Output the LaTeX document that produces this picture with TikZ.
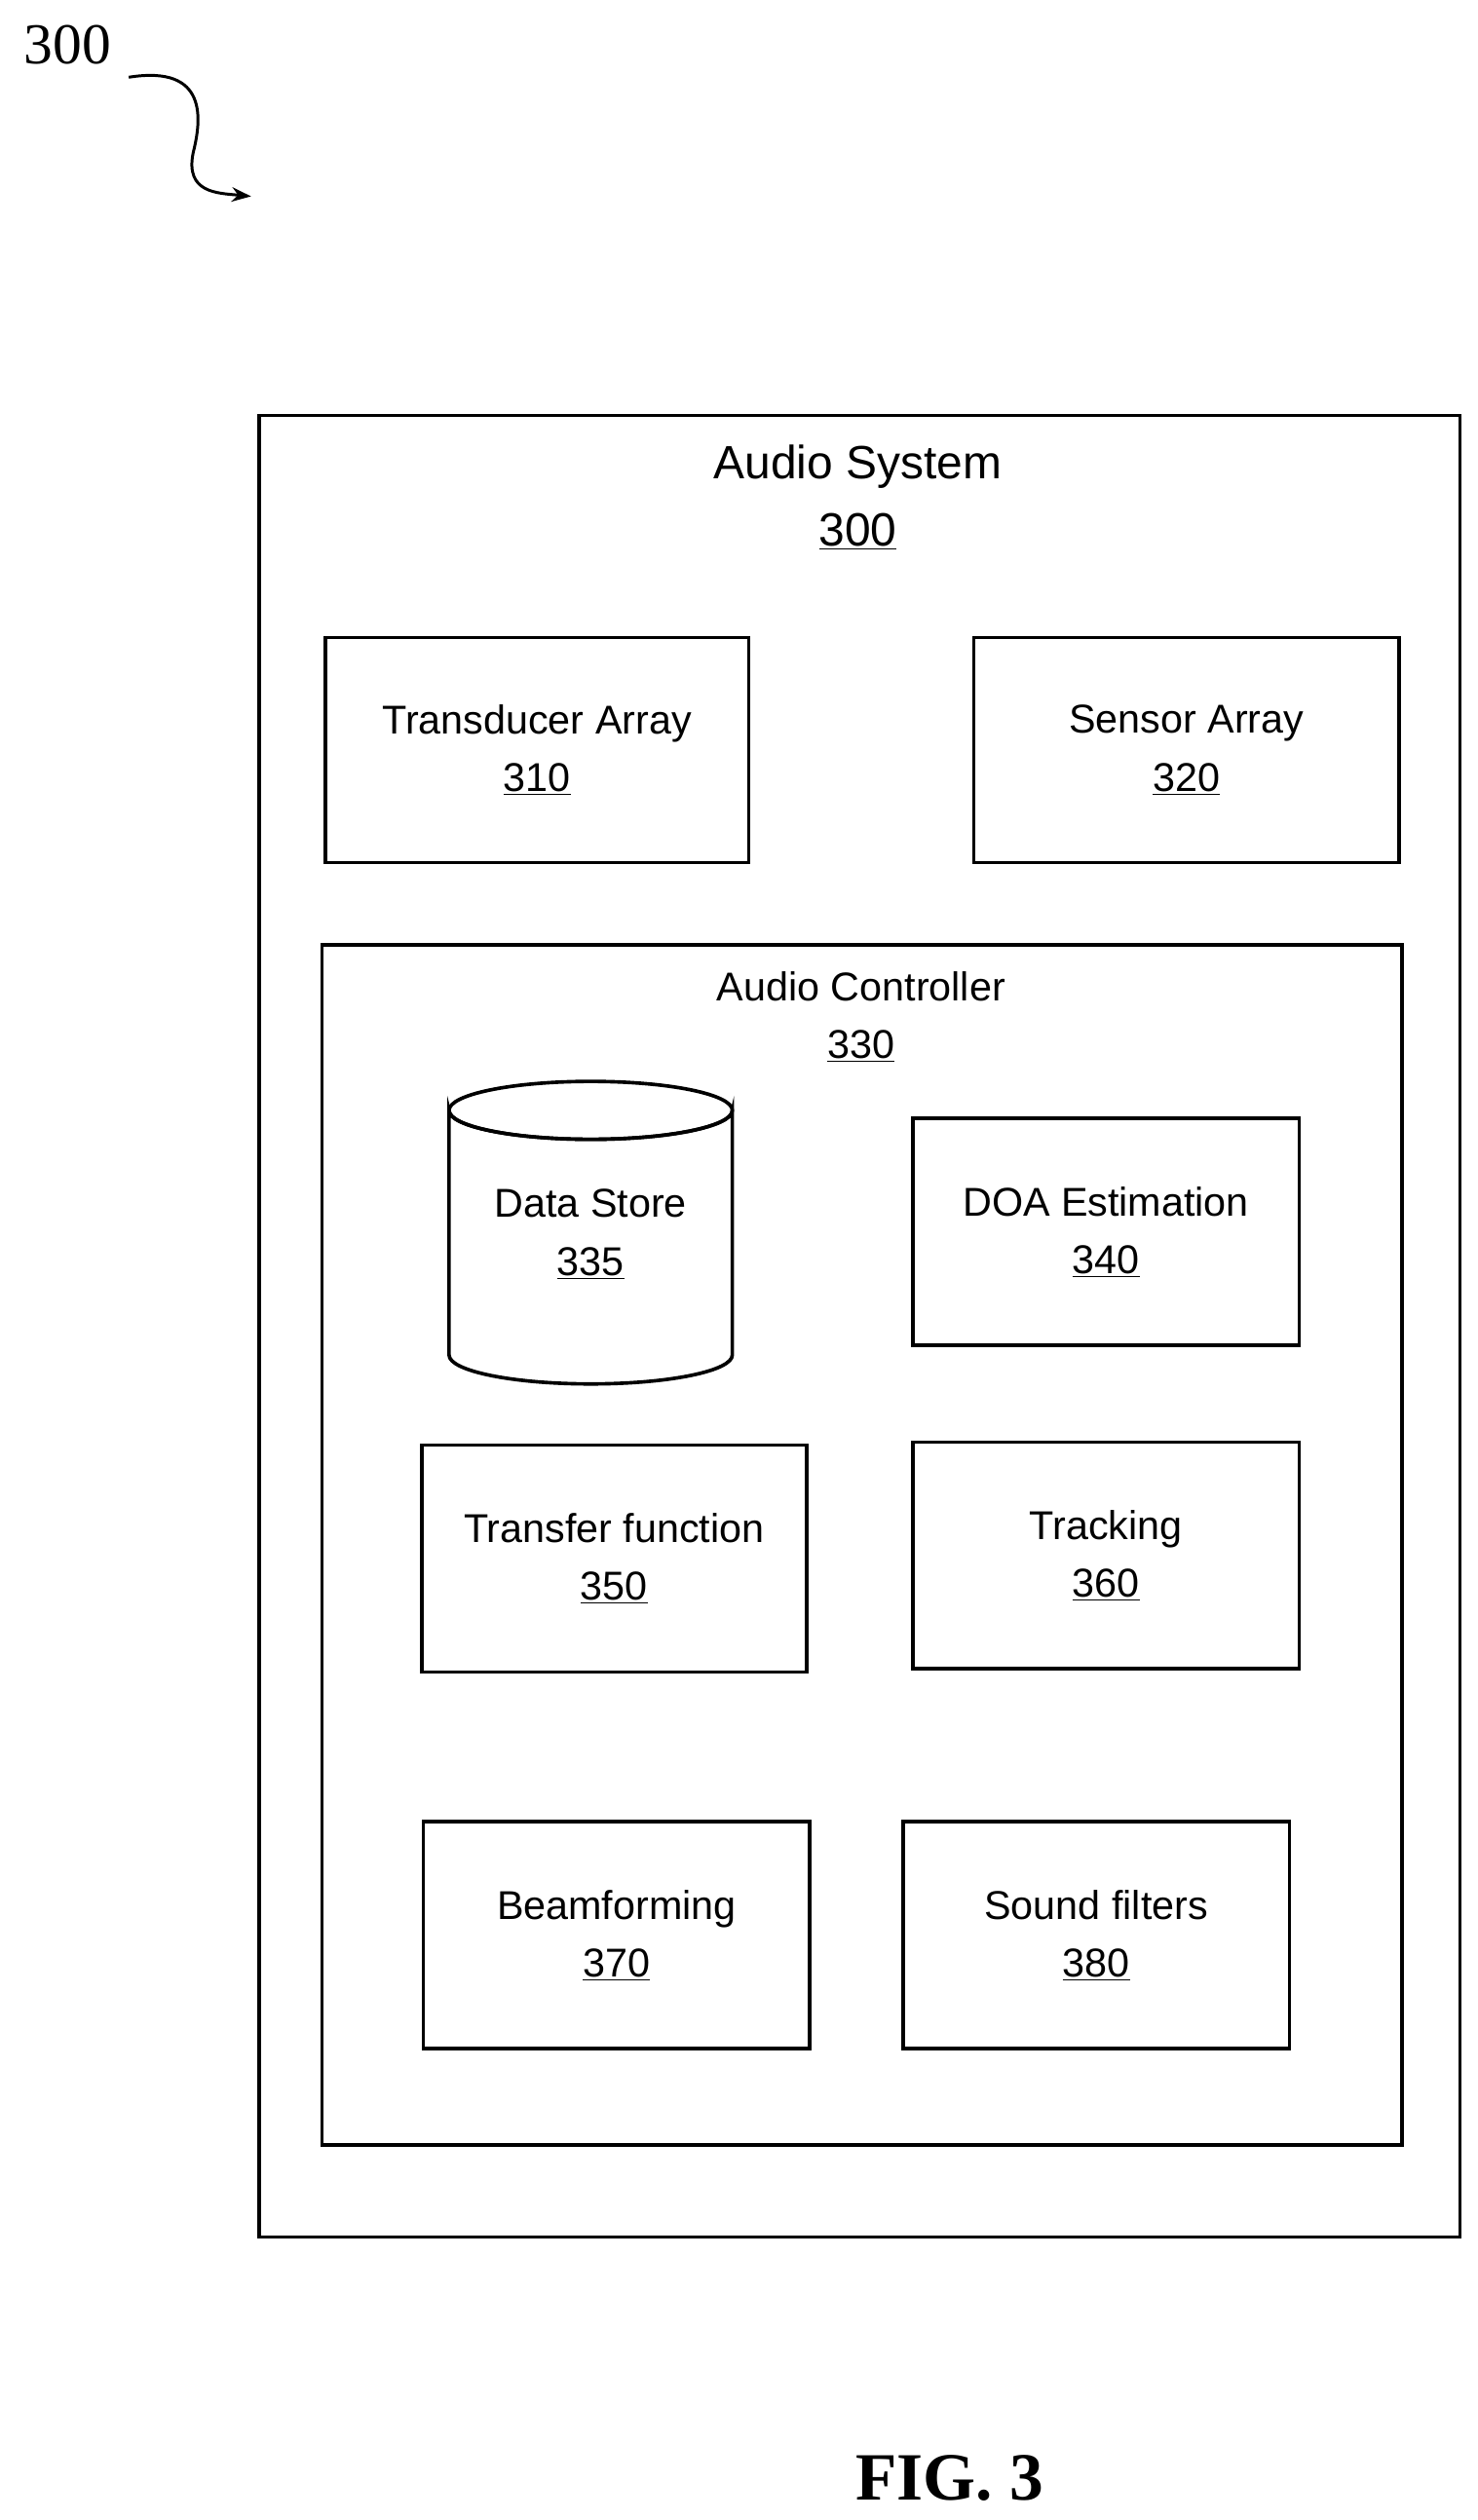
\documentclass[tikz,border=0pt]{standalone}
\usepackage{fontspec}
\usetikzlibrary{arrows.meta}
\setmainfont{Liberation Serif}
\newfontfamily\lsans{Liberation Sans}
\begin{document}
\begin{tikzpicture}[x=1pt,y=-1pt,line width=2.2pt,
  box/.style={draw,rectangle,line width=2.2pt},
  lab/.style={font=\lsans\fontsize{25}{36}\selectfont,align=center}]
\useasboundingbox (0,0) rectangle (918,1566);
\node[box,minimum width=746pt,minimum height=1132pt,anchor=north west] (sys) at (160,257) {};
\node[lab,font=\lsans\fontsize{29}{42}\selectfont] (syst) at (533,309) {Audio System\\\underline{300}};
\node[box,minimum width=263pt,minimum height=140pt,anchor=north west] (ta) at (201,395) {};
\node[lab] at (ta.center) {Transducer Array\\\underline{310}};
\node[box,minimum width=264pt,minimum height=140pt,anchor=north west] (sa) at (604,395) {};
\node[lab] at (sa.center) {Sensor Array\\\underline{320}};
\node[box,minimum width=671pt,minimum height=746pt,anchor=north west] (ac) at (199,586) {};
\node[lab] (act) at (535,632) {Audio Controller\\\underline{330}};
% cylinder
\coordinate (cyl) at (367,690);
\draw[fill=white] (279,690) arc[start angle=180,end angle=360,x radius=88pt,y radius=18pt]
  -- (455,842) arc[start angle=0,end angle=-180,x radius=88pt,y radius=18pt] -- cycle;
\draw (cyl) ellipse[x radius=88pt,y radius=18pt];
\node[lab] (ds) at (367,767) {Data Store\\\underline{335}};
\node[box,minimum width=240pt,minimum height=141pt,anchor=north west] (doa) at (566,694) {};
\node[lab] at (doa.center) {DOA Estimation\\\underline{340}};
\node[box,minimum width=239pt,minimum height=141pt,anchor=north west] (tf) at (261,897) {};
\node[lab] at (tf.center) {Transfer function\\\underline{350}};
\node[box,minimum width=240pt,minimum height=141pt,anchor=north west] (tr) at (566,895) {};
\node[lab] at (tr.center) {Tracking\\\underline{360}};
\node[box,minimum width=240pt,minimum height=141pt,anchor=north west] (bf) at (262,1131) {};
\node[lab] at (bf.center) {Beamforming\\\underline{370}};
\node[box,minimum width=240pt,minimum height=141pt,anchor=north west] (sf) at (560,1131) {};
\node[lab] at (sf.center) {Sound filters\\\underline{380}};
\node[font=\fontsize{36}{40}\selectfont] (num) at (42,28) {300};
\coordinate (arr) at (156,122);
\draw[line width=1.8pt,-{Stealth[length=12pt]}] (80,48) .. controls (130,40) and (125,75) .. (120,95) .. controls (115,120) and (135,120) .. (arr);
\node[font=\bfseries\fontsize{42}{46}\selectfont] (fig) at (590,1540) {FIG. 3};
\end{tikzpicture}
\end{document}
